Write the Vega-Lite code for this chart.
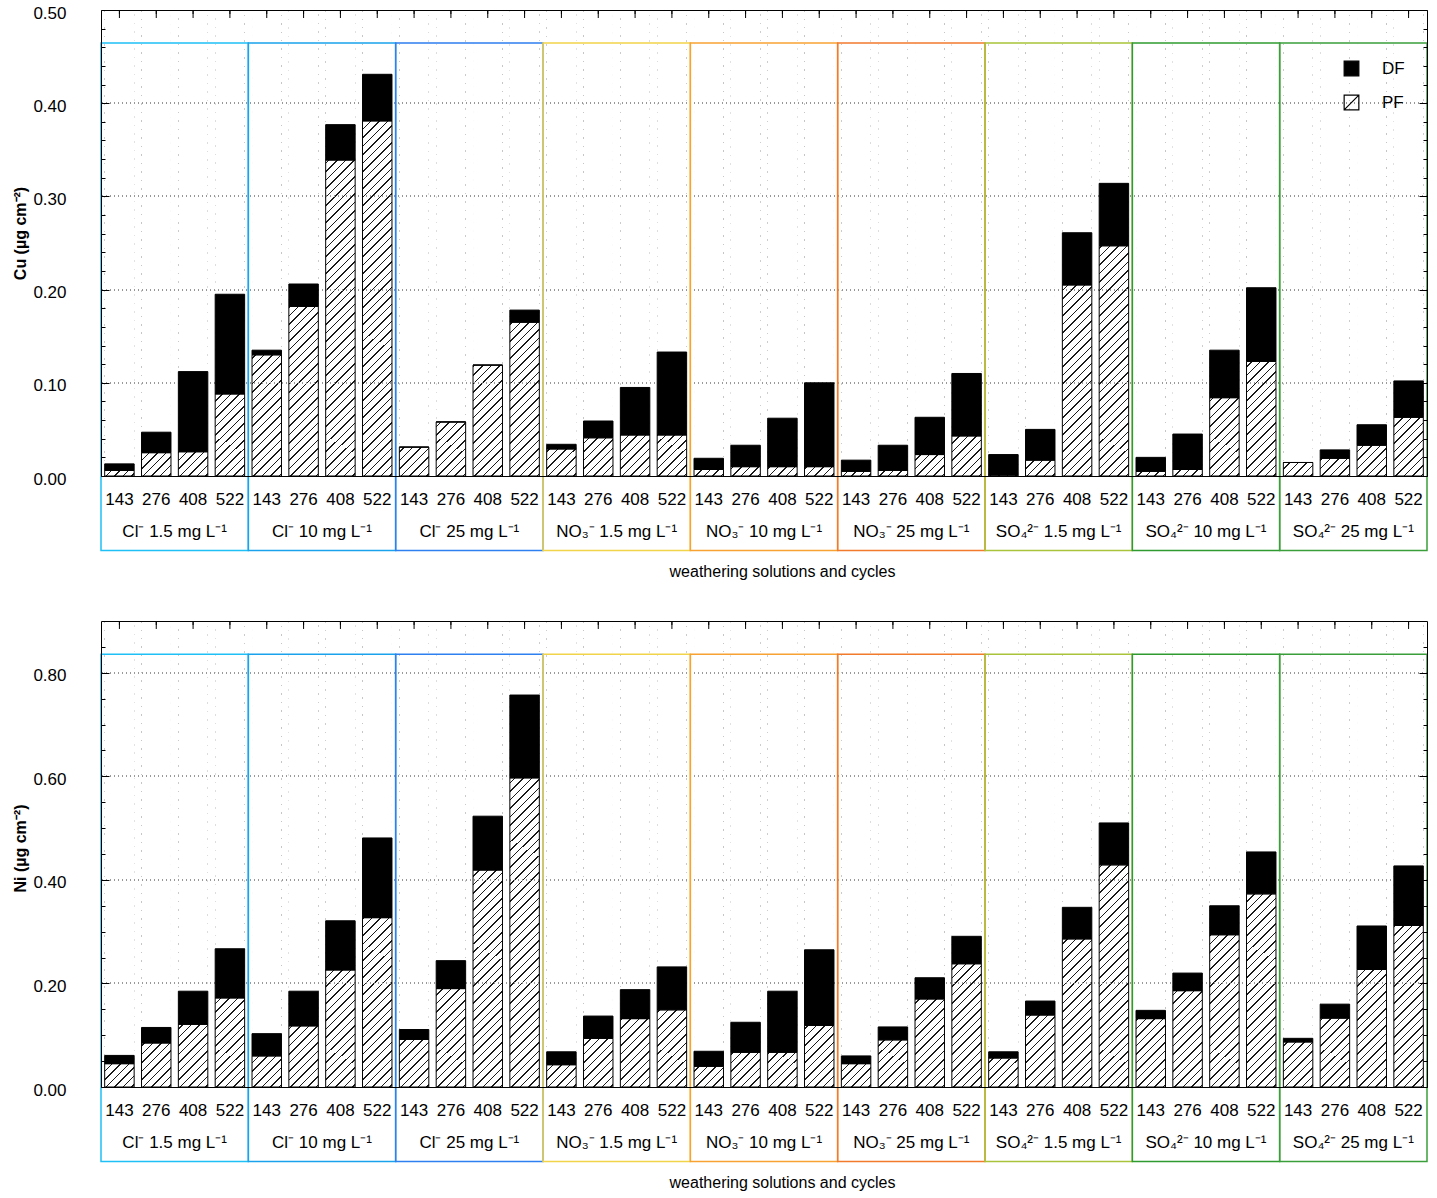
{
"$schema": "https://vega.github.io/schema/vega-lite/v6.json",
"background": "white",
"padding": {"left": 12, "top": 4, "right": 10, "bottom": 6},
"spacing": 41,
"config": {
 "font": "Liberation Sans",
 "view": {"stroke": null},
 "scale": {"bandPaddingInner": 0, "bandPaddingOuter": 0, "barBandPaddingInner": 0, "rectBandPaddingInner": 0},
 "axis": {"grid": false, "domainColor": "#000", "tickColor": "#000", "labelColor": "#000", "titleColor": "#000", "labelFontSize": 17, "titleFontSize": 16, "domainWidth": 1, "tickWidth": 1},
 "text": {"color": "#000"}
},
"datasets": {
 "cu": [
  {"solution":"Cl⁻ 1.5 mg L⁻¹","cycle":"143","fraction":"PF","value":0.006},{"solution":"Cl⁻ 1.5 mg L⁻¹","cycle":"143","fraction":"DF","value":0.007},
  {"solution":"Cl⁻ 1.5 mg L⁻¹","cycle":"276","fraction":"PF","value":0.025},{"solution":"Cl⁻ 1.5 mg L⁻¹","cycle":"276","fraction":"DF","value":0.022},
  {"solution":"Cl⁻ 1.5 mg L⁻¹","cycle":"408","fraction":"PF","value":0.026},{"solution":"Cl⁻ 1.5 mg L⁻¹","cycle":"408","fraction":"DF","value":0.086},
  {"solution":"Cl⁻ 1.5 mg L⁻¹","cycle":"522","fraction":"PF","value":0.088},{"solution":"Cl⁻ 1.5 mg L⁻¹","cycle":"522","fraction":"DF","value":0.107},
  {"solution":"Cl⁻ 10 mg L⁻¹","cycle":"143","fraction":"PF","value":0.130},{"solution":"Cl⁻ 10 mg L⁻¹","cycle":"143","fraction":"DF","value":0.005},
  {"solution":"Cl⁻ 10 mg L⁻¹","cycle":"276","fraction":"PF","value":0.182},{"solution":"Cl⁻ 10 mg L⁻¹","cycle":"276","fraction":"DF","value":0.024},
  {"solution":"Cl⁻ 10 mg L⁻¹","cycle":"408","fraction":"PF","value":0.339},{"solution":"Cl⁻ 10 mg L⁻¹","cycle":"408","fraction":"DF","value":0.038},
  {"solution":"Cl⁻ 10 mg L⁻¹","cycle":"522","fraction":"PF","value":0.381},{"solution":"Cl⁻ 10 mg L⁻¹","cycle":"522","fraction":"DF","value":0.050},
  {"solution":"Cl⁻ 25 mg L⁻¹","cycle":"143","fraction":"PF","value":0.031},{"solution":"Cl⁻ 25 mg L⁻¹","cycle":"143","fraction":"DF","value":0},
  {"solution":"Cl⁻ 25 mg L⁻¹","cycle":"276","fraction":"PF","value":0.058},{"solution":"Cl⁻ 25 mg L⁻¹","cycle":"276","fraction":"DF","value":0},
  {"solution":"Cl⁻ 25 mg L⁻¹","cycle":"408","fraction":"PF","value":0.119},{"solution":"Cl⁻ 25 mg L⁻¹","cycle":"408","fraction":"DF","value":0},
  {"solution":"Cl⁻ 25 mg L⁻¹","cycle":"522","fraction":"PF","value":0.165},{"solution":"Cl⁻ 25 mg L⁻¹","cycle":"522","fraction":"DF","value":0.013},
  {"solution":"NO₃⁻ 1.5 mg L⁻¹","cycle":"143","fraction":"PF","value":0.029},{"solution":"NO₃⁻ 1.5 mg L⁻¹","cycle":"143","fraction":"DF","value":0.005},
  {"solution":"NO₃⁻ 1.5 mg L⁻¹","cycle":"276","fraction":"PF","value":0.041},{"solution":"NO₃⁻ 1.5 mg L⁻¹","cycle":"276","fraction":"DF","value":0.018},
  {"solution":"NO₃⁻ 1.5 mg L⁻¹","cycle":"408","fraction":"PF","value":0.044},{"solution":"NO₃⁻ 1.5 mg L⁻¹","cycle":"408","fraction":"DF","value":0.051},
  {"solution":"NO₃⁻ 1.5 mg L⁻¹","cycle":"522","fraction":"PF","value":0.044},{"solution":"NO₃⁻ 1.5 mg L⁻¹","cycle":"522","fraction":"DF","value":0.089},
  {"solution":"NO₃⁻ 10 mg L⁻¹","cycle":"143","fraction":"PF","value":0.007},{"solution":"NO₃⁻ 10 mg L⁻¹","cycle":"143","fraction":"DF","value":0.012},
  {"solution":"NO₃⁻ 10 mg L⁻¹","cycle":"276","fraction":"PF","value":0.010},{"solution":"NO₃⁻ 10 mg L⁻¹","cycle":"276","fraction":"DF","value":0.023},
  {"solution":"NO₃⁻ 10 mg L⁻¹","cycle":"408","fraction":"PF","value":0.010},{"solution":"NO₃⁻ 10 mg L⁻¹","cycle":"408","fraction":"DF","value":0.052},
  {"solution":"NO₃⁻ 10 mg L⁻¹","cycle":"522","fraction":"PF","value":0.010},{"solution":"NO₃⁻ 10 mg L⁻¹","cycle":"522","fraction":"DF","value":0.090},
  {"solution":"NO₃⁻ 25 mg L⁻¹","cycle":"143","fraction":"PF","value":0.005},{"solution":"NO₃⁻ 25 mg L⁻¹","cycle":"143","fraction":"DF","value":0.012},
  {"solution":"NO₃⁻ 25 mg L⁻¹","cycle":"276","fraction":"PF","value":0.006},{"solution":"NO₃⁻ 25 mg L⁻¹","cycle":"276","fraction":"DF","value":0.027},
  {"solution":"NO₃⁻ 25 mg L⁻¹","cycle":"408","fraction":"PF","value":0.023},{"solution":"NO₃⁻ 25 mg L⁻¹","cycle":"408","fraction":"DF","value":0.040},
  {"solution":"NO₃⁻ 25 mg L⁻¹","cycle":"522","fraction":"PF","value":0.043},{"solution":"NO₃⁻ 25 mg L⁻¹","cycle":"522","fraction":"DF","value":0.067},
  {"solution":"SO₄²⁻ 1.5 mg L⁻¹","cycle":"143","fraction":"PF","value":0.001},{"solution":"SO₄²⁻ 1.5 mg L⁻¹","cycle":"143","fraction":"DF","value":0.022},
  {"solution":"SO₄²⁻ 1.5 mg L⁻¹","cycle":"276","fraction":"PF","value":0.017},{"solution":"SO₄²⁻ 1.5 mg L⁻¹","cycle":"276","fraction":"DF","value":0.033},
  {"solution":"SO₄²⁻ 1.5 mg L⁻¹","cycle":"408","fraction":"PF","value":0.205},{"solution":"SO₄²⁻ 1.5 mg L⁻¹","cycle":"408","fraction":"DF","value":0.056},
  {"solution":"SO₄²⁻ 1.5 mg L⁻¹","cycle":"522","fraction":"PF","value":0.247},{"solution":"SO₄²⁻ 1.5 mg L⁻¹","cycle":"522","fraction":"DF","value":0.067},
  {"solution":"SO₄²⁻ 10 mg L⁻¹","cycle":"143","fraction":"PF","value":0.005},{"solution":"SO₄²⁻ 10 mg L⁻¹","cycle":"143","fraction":"DF","value":0.015},
  {"solution":"SO₄²⁻ 10 mg L⁻¹","cycle":"276","fraction":"PF","value":0.007},{"solution":"SO₄²⁻ 10 mg L⁻¹","cycle":"276","fraction":"DF","value":0.038},
  {"solution":"SO₄²⁻ 10 mg L⁻¹","cycle":"408","fraction":"PF","value":0.084},{"solution":"SO₄²⁻ 10 mg L⁻¹","cycle":"408","fraction":"DF","value":0.051},
  {"solution":"SO₄²⁻ 10 mg L⁻¹","cycle":"522","fraction":"PF","value":0.123},{"solution":"SO₄²⁻ 10 mg L⁻¹","cycle":"522","fraction":"DF","value":0.079},
  {"solution":"SO₄²⁻ 25 mg L⁻¹","cycle":"143","fraction":"PF","value":0.0145},{"solution":"SO₄²⁻ 25 mg L⁻¹","cycle":"143","fraction":"DF","value":0},
  {"solution":"SO₄²⁻ 25 mg L⁻¹","cycle":"276","fraction":"PF","value":0.019},{"solution":"SO₄²⁻ 25 mg L⁻¹","cycle":"276","fraction":"DF","value":0.009},
  {"solution":"SO₄²⁻ 25 mg L⁻¹","cycle":"408","fraction":"PF","value":0.033},{"solution":"SO₄²⁻ 25 mg L⁻¹","cycle":"408","fraction":"DF","value":0.022},
  {"solution":"SO₄²⁻ 25 mg L⁻¹","cycle":"522","fraction":"PF","value":0.063},{"solution":"SO₄²⁻ 25 mg L⁻¹","cycle":"522","fraction":"DF","value":0.039}
 ],
 "ni": [
  {"solution":"Cl⁻ 1.5 mg L⁻¹","cycle":"143","fraction":"PF","value":0.045},{"solution":"Cl⁻ 1.5 mg L⁻¹","cycle":"143","fraction":"DF","value":0.016},
  {"solution":"Cl⁻ 1.5 mg L⁻¹","cycle":"276","fraction":"PF","value":0.085},{"solution":"Cl⁻ 1.5 mg L⁻¹","cycle":"276","fraction":"DF","value":0.030},
  {"solution":"Cl⁻ 1.5 mg L⁻¹","cycle":"408","fraction":"PF","value":0.121},{"solution":"Cl⁻ 1.5 mg L⁻¹","cycle":"408","fraction":"DF","value":0.064},
  {"solution":"Cl⁻ 1.5 mg L⁻¹","cycle":"522","fraction":"PF","value":0.172},{"solution":"Cl⁻ 1.5 mg L⁻¹","cycle":"522","fraction":"DF","value":0.095},
  {"solution":"Cl⁻ 10 mg L⁻¹","cycle":"143","fraction":"PF","value":0.060},{"solution":"Cl⁻ 10 mg L⁻¹","cycle":"143","fraction":"DF","value":0.043},
  {"solution":"Cl⁻ 10 mg L⁻¹","cycle":"276","fraction":"PF","value":0.118},{"solution":"Cl⁻ 10 mg L⁻¹","cycle":"276","fraction":"DF","value":0.067},
  {"solution":"Cl⁻ 10 mg L⁻¹","cycle":"408","fraction":"PF","value":0.226},{"solution":"Cl⁻ 10 mg L⁻¹","cycle":"408","fraction":"DF","value":0.095},
  {"solution":"Cl⁻ 10 mg L⁻¹","cycle":"522","fraction":"PF","value":0.327},{"solution":"Cl⁻ 10 mg L⁻¹","cycle":"522","fraction":"DF","value":0.154},
  {"solution":"Cl⁻ 25 mg L⁻¹","cycle":"143","fraction":"PF","value":0.092},{"solution":"Cl⁻ 25 mg L⁻¹","cycle":"143","fraction":"DF","value":0.019},
  {"solution":"Cl⁻ 25 mg L⁻¹","cycle":"276","fraction":"PF","value":0.190},{"solution":"Cl⁻ 25 mg L⁻¹","cycle":"276","fraction":"DF","value":0.054},
  {"solution":"Cl⁻ 25 mg L⁻¹","cycle":"408","fraction":"PF","value":0.419},{"solution":"Cl⁻ 25 mg L⁻¹","cycle":"408","fraction":"DF","value":0.104},
  {"solution":"Cl⁻ 25 mg L⁻¹","cycle":"522","fraction":"PF","value":0.597},{"solution":"Cl⁻ 25 mg L⁻¹","cycle":"522","fraction":"DF","value":0.160},
  {"solution":"NO₃⁻ 1.5 mg L⁻¹","cycle":"143","fraction":"PF","value":0.043},{"solution":"NO₃⁻ 1.5 mg L⁻¹","cycle":"143","fraction":"DF","value":0.025},
  {"solution":"NO₃⁻ 1.5 mg L⁻¹","cycle":"276","fraction":"PF","value":0.094},{"solution":"NO₃⁻ 1.5 mg L⁻¹","cycle":"276","fraction":"DF","value":0.043},
  {"solution":"NO₃⁻ 1.5 mg L⁻¹","cycle":"408","fraction":"PF","value":0.132},{"solution":"NO₃⁻ 1.5 mg L⁻¹","cycle":"408","fraction":"DF","value":0.056},
  {"solution":"NO₃⁻ 1.5 mg L⁻¹","cycle":"522","fraction":"PF","value":0.149},{"solution":"NO₃⁻ 1.5 mg L⁻¹","cycle":"522","fraction":"DF","value":0.083},
  {"solution":"NO₃⁻ 10 mg L⁻¹","cycle":"143","fraction":"PF","value":0.040},{"solution":"NO₃⁻ 10 mg L⁻¹","cycle":"143","fraction":"DF","value":0.029},
  {"solution":"NO₃⁻ 10 mg L⁻¹","cycle":"276","fraction":"PF","value":0.067},{"solution":"NO₃⁻ 10 mg L⁻¹","cycle":"276","fraction":"DF","value":0.058},
  {"solution":"NO₃⁻ 10 mg L⁻¹","cycle":"408","fraction":"PF","value":0.067},{"solution":"NO₃⁻ 10 mg L⁻¹","cycle":"408","fraction":"DF","value":0.118},
  {"solution":"NO₃⁻ 10 mg L⁻¹","cycle":"522","fraction":"PF","value":0.119},{"solution":"NO₃⁻ 10 mg L⁻¹","cycle":"522","fraction":"DF","value":0.146},
  {"solution":"NO₃⁻ 25 mg L⁻¹","cycle":"143","fraction":"PF","value":0.045},{"solution":"NO₃⁻ 25 mg L⁻¹","cycle":"143","fraction":"DF","value":0.015},
  {"solution":"NO₃⁻ 25 mg L⁻¹","cycle":"276","fraction":"PF","value":0.091},{"solution":"NO₃⁻ 25 mg L⁻¹","cycle":"276","fraction":"DF","value":0.025},
  {"solution":"NO₃⁻ 25 mg L⁻¹","cycle":"408","fraction":"PF","value":0.170},{"solution":"NO₃⁻ 25 mg L⁻¹","cycle":"408","fraction":"DF","value":0.041},
  {"solution":"NO₃⁻ 25 mg L⁻¹","cycle":"522","fraction":"PF","value":0.238},{"solution":"NO₃⁻ 25 mg L⁻¹","cycle":"522","fraction":"DF","value":0.053},
  {"solution":"SO₄²⁻ 1.5 mg L⁻¹","cycle":"143","fraction":"PF","value":0.056},{"solution":"SO₄²⁻ 1.5 mg L⁻¹","cycle":"143","fraction":"DF","value":0.012},
  {"solution":"SO₄²⁻ 1.5 mg L⁻¹","cycle":"276","fraction":"PF","value":0.139},{"solution":"SO₄²⁻ 1.5 mg L⁻¹","cycle":"276","fraction":"DF","value":0.027},
  {"solution":"SO₄²⁻ 1.5 mg L⁻¹","cycle":"408","fraction":"PF","value":0.286},{"solution":"SO₄²⁻ 1.5 mg L⁻¹","cycle":"408","fraction":"DF","value":0.061},
  {"solution":"SO₄²⁻ 1.5 mg L⁻¹","cycle":"522","fraction":"PF","value":0.429},{"solution":"SO₄²⁻ 1.5 mg L⁻¹","cycle":"522","fraction":"DF","value":0.081},
  {"solution":"SO₄²⁻ 10 mg L⁻¹","cycle":"143","fraction":"PF","value":0.132},{"solution":"SO₄²⁻ 10 mg L⁻¹","cycle":"143","fraction":"DF","value":0.016},
  {"solution":"SO₄²⁻ 10 mg L⁻¹","cycle":"276","fraction":"PF","value":0.186},{"solution":"SO₄²⁻ 10 mg L⁻¹","cycle":"276","fraction":"DF","value":0.034},
  {"solution":"SO₄²⁻ 10 mg L⁻¹","cycle":"408","fraction":"PF","value":0.294},{"solution":"SO₄²⁻ 10 mg L⁻¹","cycle":"408","fraction":"DF","value":0.056},
  {"solution":"SO₄²⁻ 10 mg L⁻¹","cycle":"522","fraction":"PF","value":0.373},{"solution":"SO₄²⁻ 10 mg L⁻¹","cycle":"522","fraction":"DF","value":0.081},
  {"solution":"SO₄²⁻ 25 mg L⁻¹","cycle":"143","fraction":"PF","value":0.087},{"solution":"SO₄²⁻ 25 mg L⁻¹","cycle":"143","fraction":"DF","value":0.007},
  {"solution":"SO₄²⁻ 25 mg L⁻¹","cycle":"276","fraction":"PF","value":0.133},{"solution":"SO₄²⁻ 25 mg L⁻¹","cycle":"276","fraction":"DF","value":0.027},
  {"solution":"SO₄²⁻ 25 mg L⁻¹","cycle":"408","fraction":"PF","value":0.227},{"solution":"SO₄²⁻ 25 mg L⁻¹","cycle":"408","fraction":"DF","value":0.084},
  {"solution":"SO₄²⁻ 25 mg L⁻¹","cycle":"522","fraction":"PF","value":0.312},{"solution":"SO₄²⁻ 25 mg L⁻¹","cycle":"522","fraction":"DF","value":0.115}
 ]
},
"vconcat": [
 {
  "width": 1326, "height": 466,
  "data": {"name": "cu"},
  "resolve": {"axis": {"x": "independent", "y": "independent"}},
  "layer": [
   {"transform": [{"filter": "datum.fraction === 'PF'"}],
    "mark": {"type": "rule", "color": "#999", "strokeDash": [1, 3], "strokeWidth": 1},
    "encoding": {
     "x": {"field": "solution", "type": "nominal", "scale": {"type": "band", "paddingInner": 0, "paddingOuter": 0}, "axis": null},
     "xOffset": {"field": "cycle", "type": "nominal", "bandPosition": -0.125, "scale": {"type": "band", "paddingInner": 0.2, "paddingOuter": 0.1}},
     "y": {"datum": 0, "type": "quantitative", "scale": {"domain": [0, 0.5], "nice": false}, "axis": {"orient": "left", "values": [0.02,0.04,0.06,0.08,0.12,0.14,0.16,0.18,0.22,0.24,0.26,0.28,0.32,0.34,0.36,0.38,0.42,0.44,0.46,0.48], "labels": false, "tickSize": -4, "domain": false, "title": null, "zindex": 1}},
     "y2": {"datum": 0.5}
    }},
   {"transform": [{"filter": "datum.fraction === 'PF'"}],
    "mark": {"type": "bar", "strokeWidth": 0, "fill": {"gradient": "linear", "x1": 0, "y1": 0, "x2": 0.0673, "y2": 1.067, "stops": [
{"offset":0,"color":"#1a1a1a"},{"offset":0.003,"color":"#1a1a1a"},{"offset":0.003,"color":"#fff"},
{"offset":0.017,"color":"#fff"},{"offset":0.017,"color":"#1a1a1a"},{"offset":0.02,"color":"#1a1a1a"},{"offset":0.02,"color":"#fff"},
{"offset":0.034,"color":"#fff"},{"offset":0.034,"color":"#1a1a1a"},{"offset":0.037,"color":"#1a1a1a"},{"offset":0.037,"color":"#fff"},
{"offset":0.051,"color":"#fff"},{"offset":0.051,"color":"#1a1a1a"},{"offset":0.054,"color":"#1a1a1a"},{"offset":0.054,"color":"#fff"},
{"offset":0.068,"color":"#fff"},{"offset":0.068,"color":"#1a1a1a"},{"offset":0.071,"color":"#1a1a1a"},{"offset":0.071,"color":"#fff"},
{"offset":0.085,"color":"#fff"},{"offset":0.085,"color":"#1a1a1a"},{"offset":0.088,"color":"#1a1a1a"},{"offset":0.088,"color":"#fff"},
{"offset":0.102,"color":"#fff"},{"offset":0.102,"color":"#1a1a1a"},{"offset":0.105,"color":"#1a1a1a"},{"offset":0.105,"color":"#fff"},
{"offset":0.119,"color":"#fff"},{"offset":0.119,"color":"#1a1a1a"},{"offset":0.122,"color":"#1a1a1a"},{"offset":0.122,"color":"#fff"},
{"offset":0.136,"color":"#fff"},{"offset":0.136,"color":"#1a1a1a"},{"offset":0.139,"color":"#1a1a1a"},{"offset":0.139,"color":"#fff"},
{"offset":0.153,"color":"#fff"},{"offset":0.153,"color":"#1a1a1a"},{"offset":0.156,"color":"#1a1a1a"},{"offset":0.156,"color":"#fff"},
{"offset":0.17,"color":"#fff"},{"offset":0.17,"color":"#1a1a1a"},{"offset":0.173,"color":"#1a1a1a"},{"offset":0.173,"color":"#fff"},
{"offset":0.187,"color":"#fff"},{"offset":0.187,"color":"#1a1a1a"},{"offset":0.19,"color":"#1a1a1a"},{"offset":0.19,"color":"#fff"},
{"offset":0.204,"color":"#fff"},{"offset":0.204,"color":"#1a1a1a"},{"offset":0.207,"color":"#1a1a1a"},{"offset":0.207,"color":"#fff"},
{"offset":0.221,"color":"#fff"},{"offset":0.221,"color":"#1a1a1a"},{"offset":0.224,"color":"#1a1a1a"},{"offset":0.224,"color":"#fff"},
{"offset":0.238,"color":"#fff"},{"offset":0.238,"color":"#1a1a1a"},{"offset":0.241,"color":"#1a1a1a"},{"offset":0.241,"color":"#fff"},
{"offset":0.255,"color":"#fff"},{"offset":0.255,"color":"#1a1a1a"},{"offset":0.258,"color":"#1a1a1a"},{"offset":0.258,"color":"#fff"},
{"offset":0.272,"color":"#fff"},{"offset":0.272,"color":"#1a1a1a"},{"offset":0.275,"color":"#1a1a1a"},{"offset":0.275,"color":"#fff"},
{"offset":0.289,"color":"#fff"},{"offset":0.289,"color":"#1a1a1a"},{"offset":0.292,"color":"#1a1a1a"},{"offset":0.292,"color":"#fff"},
{"offset":0.306,"color":"#fff"},{"offset":0.306,"color":"#1a1a1a"},{"offset":0.309,"color":"#1a1a1a"},{"offset":0.309,"color":"#fff"},
{"offset":0.323,"color":"#fff"},{"offset":0.323,"color":"#1a1a1a"},{"offset":0.326,"color":"#1a1a1a"},{"offset":0.326,"color":"#fff"},
{"offset":0.34,"color":"#fff"},{"offset":0.34,"color":"#1a1a1a"},{"offset":0.343,"color":"#1a1a1a"},{"offset":0.343,"color":"#fff"},
{"offset":0.357,"color":"#fff"},{"offset":0.357,"color":"#1a1a1a"},{"offset":0.36,"color":"#1a1a1a"},{"offset":0.36,"color":"#fff"},
{"offset":0.374,"color":"#fff"},{"offset":0.374,"color":"#1a1a1a"},{"offset":0.377,"color":"#1a1a1a"},{"offset":0.377,"color":"#fff"},
{"offset":0.391,"color":"#fff"},{"offset":0.391,"color":"#1a1a1a"},{"offset":0.394,"color":"#1a1a1a"},{"offset":0.394,"color":"#fff"},
{"offset":0.408,"color":"#fff"},{"offset":0.408,"color":"#1a1a1a"},{"offset":0.411,"color":"#1a1a1a"},{"offset":0.411,"color":"#fff"},
{"offset":0.425,"color":"#fff"},{"offset":0.425,"color":"#1a1a1a"},{"offset":0.428,"color":"#1a1a1a"},{"offset":0.428,"color":"#fff"},
{"offset":0.442,"color":"#fff"},{"offset":0.442,"color":"#1a1a1a"},{"offset":0.445,"color":"#1a1a1a"},{"offset":0.445,"color":"#fff"},
{"offset":0.459,"color":"#fff"},{"offset":0.459,"color":"#1a1a1a"},{"offset":0.462,"color":"#1a1a1a"},{"offset":0.462,"color":"#fff"},
{"offset":0.476,"color":"#fff"},{"offset":0.476,"color":"#1a1a1a"},{"offset":0.479,"color":"#1a1a1a"},{"offset":0.479,"color":"#fff"},
{"offset":0.493,"color":"#fff"},{"offset":0.493,"color":"#1a1a1a"},{"offset":0.496,"color":"#1a1a1a"},{"offset":0.496,"color":"#fff"},
{"offset":0.51,"color":"#fff"},{"offset":0.51,"color":"#1a1a1a"},{"offset":0.513,"color":"#1a1a1a"},{"offset":0.513,"color":"#fff"},
{"offset":0.527,"color":"#fff"},{"offset":0.527,"color":"#1a1a1a"},{"offset":0.53,"color":"#1a1a1a"},{"offset":0.53,"color":"#fff"},
{"offset":0.544,"color":"#fff"},{"offset":0.544,"color":"#1a1a1a"},{"offset":0.547,"color":"#1a1a1a"},{"offset":0.547,"color":"#fff"},
{"offset":0.561,"color":"#fff"},{"offset":0.561,"color":"#1a1a1a"},{"offset":0.564,"color":"#1a1a1a"},{"offset":0.564,"color":"#fff"},
{"offset":0.578,"color":"#fff"},{"offset":0.578,"color":"#1a1a1a"},{"offset":0.581,"color":"#1a1a1a"},{"offset":0.581,"color":"#fff"},
{"offset":0.595,"color":"#fff"},{"offset":0.595,"color":"#1a1a1a"},{"offset":0.598,"color":"#1a1a1a"},{"offset":0.598,"color":"#fff"},
{"offset":0.612,"color":"#fff"},{"offset":0.612,"color":"#1a1a1a"},{"offset":0.615,"color":"#1a1a1a"},{"offset":0.615,"color":"#fff"},
{"offset":0.629,"color":"#fff"},{"offset":0.629,"color":"#1a1a1a"},{"offset":0.632,"color":"#1a1a1a"},{"offset":0.632,"color":"#fff"},
{"offset":0.646,"color":"#fff"},{"offset":0.646,"color":"#1a1a1a"},{"offset":0.649,"color":"#1a1a1a"},{"offset":0.649,"color":"#fff"},
{"offset":0.663,"color":"#fff"},{"offset":0.663,"color":"#1a1a1a"},{"offset":0.666,"color":"#1a1a1a"},{"offset":0.666,"color":"#fff"},
{"offset":0.68,"color":"#fff"},{"offset":0.68,"color":"#1a1a1a"},{"offset":0.683,"color":"#1a1a1a"},{"offset":0.683,"color":"#fff"},
{"offset":0.697,"color":"#fff"},{"offset":0.697,"color":"#1a1a1a"},{"offset":0.7,"color":"#1a1a1a"},{"offset":0.7,"color":"#fff"},
{"offset":0.714,"color":"#fff"},{"offset":0.714,"color":"#1a1a1a"},{"offset":0.717,"color":"#1a1a1a"},{"offset":0.717,"color":"#fff"},
{"offset":0.731,"color":"#fff"},{"offset":0.731,"color":"#1a1a1a"},{"offset":0.734,"color":"#1a1a1a"},{"offset":0.734,"color":"#fff"},
{"offset":0.748,"color":"#fff"},{"offset":0.748,"color":"#1a1a1a"},{"offset":0.751,"color":"#1a1a1a"},{"offset":0.751,"color":"#fff"},
{"offset":0.765,"color":"#fff"},{"offset":0.765,"color":"#1a1a1a"},{"offset":0.768,"color":"#1a1a1a"},{"offset":0.768,"color":"#fff"},
{"offset":0.782,"color":"#fff"},{"offset":0.782,"color":"#1a1a1a"},{"offset":0.785,"color":"#1a1a1a"},{"offset":0.785,"color":"#fff"},
{"offset":0.799,"color":"#fff"},{"offset":0.799,"color":"#1a1a1a"},{"offset":0.802,"color":"#1a1a1a"},{"offset":0.802,"color":"#fff"},
{"offset":0.816,"color":"#fff"},{"offset":0.816,"color":"#1a1a1a"},{"offset":0.819,"color":"#1a1a1a"},{"offset":0.819,"color":"#fff"},
{"offset":0.833,"color":"#fff"},{"offset":0.833,"color":"#1a1a1a"},{"offset":0.836,"color":"#1a1a1a"},{"offset":0.836,"color":"#fff"},
{"offset":0.85,"color":"#fff"},{"offset":0.85,"color":"#1a1a1a"},{"offset":0.853,"color":"#1a1a1a"},{"offset":0.853,"color":"#fff"},
{"offset":0.867,"color":"#fff"},{"offset":0.867,"color":"#1a1a1a"},{"offset":0.87,"color":"#1a1a1a"},{"offset":0.87,"color":"#fff"},
{"offset":0.884,"color":"#fff"},{"offset":0.884,"color":"#1a1a1a"},{"offset":0.887,"color":"#1a1a1a"},{"offset":0.887,"color":"#fff"},
{"offset":0.901,"color":"#fff"},{"offset":0.901,"color":"#1a1a1a"},{"offset":0.904,"color":"#1a1a1a"},{"offset":0.904,"color":"#fff"},
{"offset":0.918,"color":"#fff"},{"offset":0.918,"color":"#1a1a1a"},{"offset":0.921,"color":"#1a1a1a"},{"offset":0.921,"color":"#fff"},
{"offset":0.935,"color":"#fff"},{"offset":0.935,"color":"#1a1a1a"},{"offset":0.938,"color":"#1a1a1a"},{"offset":0.938,"color":"#fff"},
{"offset":0.952,"color":"#fff"},{"offset":0.952,"color":"#1a1a1a"},{"offset":0.955,"color":"#1a1a1a"},{"offset":0.955,"color":"#fff"},
{"offset":0.969,"color":"#fff"},{"offset":0.969,"color":"#1a1a1a"},{"offset":0.972,"color":"#1a1a1a"},{"offset":0.972,"color":"#fff"},
{"offset":0.986,"color":"#fff"},{"offset":0.986,"color":"#1a1a1a"},{"offset":0.989,"color":"#1a1a1a"},{"offset":0.989,"color":"#fff"},
{"offset":1,"color":"#fff"}]}},
    "encoding": {
     "x": {"field": "solution", "type": "nominal", "scale": {"type": "band", "paddingInner": 0, "paddingOuter": 0}, "axis": {"orient": "bottom", "title": "weathering solutions and cycles", "titleFontWeight": "normal", "titleFontSize": 16, "titlePadding": 24, "titleX": 681, "labelAngle": 0, "labelPadding": 47, "labelFontSize": 17, "ticks": false, "tickSize": 0, "domain": true, "zindex": 1}},
     "xOffset": {"field": "cycle", "type": "nominal", "scale": {"type": "band", "paddingInner": 0.2, "paddingOuter": 0.1}},
     "y": {"datum": 0, "type": "quantitative", "scale": {"domain": [0, 0.5], "nice": false}, "axis": {"orient": "left", "values": [0, 0.1, 0.2, 0.3, 0.4, 0.5], "format": ".2f", "ticks": false, "tickSize": 0, "labelPadding": 35, "labelOffset": 3, "labelFontSize": 17, "title": "Cu (µg cm⁻²)", "titleFontSize": 16, "titleFontWeight": "bold", "titlePadding": 4, "titleY": 223, "domain": true, "zindex": 1}},
     "y2": {"datum": 0.5}
    }},
   {"transform": [{"filter": "datum.fraction === 'PF'"}],
    "mark": {"type": "bar", "fill": "#fff", "strokeWidth": 0},
    "encoding": {
     "x": {"field": "solution", "type": "nominal", "scale": {"type": "band", "paddingInner": 0, "paddingOuter": 0}, "axis": {"orient": "top", "labels": false, "ticks": false, "domain": true, "title": null, "zindex": 1}},
     "xOffset": {"field": "cycle", "type": "nominal", "scale": {"type": "band", "paddingInner": 0.2, "paddingOuter": 0.1}},
     "y": {"field": "value", "type": "quantitative", "scale": {"domain": [0, 0.5], "nice": false}, "axis": {"orient": "left", "values": [0, 0.1, 0.2, 0.3, 0.4, 0.5], "labels": false, "tickSize": -8, "domain": false, "title": null, "zindex": 1}},
     "y2": {"datum": 0.5}
    }},
   {"mark": {"type": "rule", "color": "#999", "strokeDash": [1, 3]}, "encoding": {"y": {"datum": 0.1, "type": "quantitative", "scale": {"domain": [0, 0.5], "nice": false}, "axis": null}}},
   {"mark": {"type": "rule", "color": "#999", "strokeDash": [1, 3]}, "encoding": {"y": {"datum": 0.2, "type": "quantitative", "scale": {"domain": [0, 0.5], "nice": false}, "axis": null}}},
   {"mark": {"type": "rule", "color": "#999", "strokeDash": [1, 3]}, "encoding": {"y": {"datum": 0.3, "type": "quantitative", "scale": {"domain": [0, 0.5], "nice": false}, "axis": null}}},
   {"mark": {"type": "rule", "color": "#999", "strokeDash": [1, 3]}, "encoding": {"y": {"datum": 0.4, "type": "quantitative", "scale": {"domain": [0, 0.5], "nice": false}, "axis": null}}},
   {"mark": {"type": "bar", "stroke": "#000", "strokeWidth": 1},
    "encoding": {
     "x": {"field": "solution", "type": "nominal", "scale": {"type": "band", "paddingInner": 0, "paddingOuter": 0}, "axis": null},
     "xOffset": {"field": "cycle", "type": "nominal", "scale": {"type": "band", "paddingInner": 0.2, "paddingOuter": 0.1}},
     "y": {"field": "value", "type": "quantitative", "stack": "zero", "scale": {"domain": [0, 0.5], "nice": false}, "axis": {"orient": "right", "values": [0, 0.1, 0.2, 0.3, 0.4, 0.5], "labels": false, "tickSize": -8, "domain": true, "title": null, "zindex": 1}},
     "fill": {"field": "fraction", "type": "nominal", "scale": {"domain": ["DF", "PF"], "range": ["#000000", "transparent"]},
      "legend": {"title": null, "orient": "none", "legendX": 1242, "legendY": 50, "padding": 0, "symbolType": "square", "symbolSize": 216, "symbolStrokeColor": "#000", "symbolStrokeWidth": 1.2, "labelFontSize": 17, "labelOffset": 22, "rowPadding": 13,
       "encode": {"symbols": {"update": {"shape": [{"test": "datum.value === 'PF'", "value": "M-1,-1H1V1H-1ZM-1,1L1,-1"}, {"value": "square"}]}}}}},
     "order": {"field": "fraction", "sort": "descending"}
    }},
   {"transform": [{"filter": "datum.fraction === 'PF'"}],
    "mark": {"type": "text", "dy": 24, "fontSize": 17, "baseline": "middle", "align": "center"},
    "encoding": {
     "x": {"field": "solution", "type": "nominal", "scale": {"type": "band", "paddingInner": 0, "paddingOuter": 0}, "axis": null},
     "xOffset": {"field": "cycle", "type": "nominal", "scale": {"type": "band", "paddingInner": 0.2, "paddingOuter": 0.1}},
     "y": {"datum": 0, "type": "quantitative", "scale": {"domain": [0, 0.5], "nice": false}, "axis": {"orient": "right", "values": [0.02,0.04,0.06,0.08,0.12,0.14,0.16,0.18,0.22,0.24,0.26,0.28,0.32,0.34,0.36,0.38,0.42,0.44,0.46,0.48], "labels": false, "tickSize": -4, "domain": false, "title": null, "zindex": 1}},
     "text": {"field": "cycle", "type": "nominal"}
    }},
   {"transform": [{"filter": "datum.fraction === 'PF'"}, {"aggregate": [{"op": "count", "as": "n"}], "groupby": ["solution"]}],
    "mark": {"type": "rect", "filled": false, "strokeWidth": 1.5},
    "encoding": {
     "x": {"field": "solution", "type": "nominal", "scale": {"type": "band", "paddingInner": 0, "paddingOuter": 0}, "axis": null},
     "y": {"datum": -0.08, "type": "quantitative", "scale": {"domain": [0, 0.5], "nice": false}, "axis": null},
     "y2": {"datum": 0.4645},
     "stroke": {"field": "solution", "type": "nominal", "scale": {"range": ["#1ec0f5", "#1aa3ec", "#2e7ff0", "#f2d44a", "#f8a233", "#f27a2c", "#a9c43a", "#2f9a2f", "#3a9e3a"]}, "legend": null}
    }},
   {"transform": [{"filter": "datum.fraction === 'PF'"}],
    "mark": {"type": "rule", "color": "#000", "strokeWidth": 1},
    "encoding": {
     "x": {"field": "solution", "type": "nominal", "scale": {"type": "band", "paddingInner": 0, "paddingOuter": 0}, "axis": null},
     "xOffset": {"field": "cycle", "type": "nominal", "bandPosition": -0.125, "scale": {"type": "band", "paddingInner": 0.2, "paddingOuter": 0.1}},
     "y": {"datum": 0.5, "type": "quantitative", "scale": {"domain": [0, 0.5], "nice": false}, "axis": null},
     "y2": {"datum": 0.4914}
    }},
   {"transform": [{"filter": "datum.fraction === 'PF'"}],
    "mark": {"type": "rule", "color": "#000", "strokeWidth": 1},
    "encoding": {
     "x": {"field": "solution", "type": "nominal", "scale": {"type": "band", "paddingInner": 0, "paddingOuter": 0}, "axis": null},
     "xOffset": {"field": "cycle", "type": "nominal", "scale": {"type": "band", "paddingInner": 0.2, "paddingOuter": 0.1}},
     "y": {"datum": 0.5, "type": "quantitative", "scale": {"domain": [0, 0.5], "nice": false}, "axis": null},
     "y2": {"datum": 0.4957}
    }}
  ]
 },
 {
  "width": 1326, "height": 466,
  "data": {"name": "ni"},
  "resolve": {"axis": {"x": "independent", "y": "independent"}},
  "layer": [
   {"transform": [{"filter": "datum.fraction === 'PF'"}],
    "mark": {"type": "rule", "color": "#999", "strokeDash": [1, 3], "strokeWidth": 1},
    "encoding": {
     "x": {"field": "solution", "type": "nominal", "scale": {"type": "band", "paddingInner": 0, "paddingOuter": 0}, "axis": null},
     "xOffset": {"field": "cycle", "type": "nominal", "bandPosition": -0.125, "scale": {"type": "band", "paddingInner": 0.2, "paddingOuter": 0.1}},
     "y": {"datum": 0, "type": "quantitative", "scale": {"domain": [0, 0.9], "nice": false}, "axis": {"orient": "left", "values": [0.05,0.1,0.15,0.25,0.3,0.35,0.45,0.5,0.55,0.65,0.7,0.75,0.85], "labels": false, "tickSize": -4, "domain": false, "title": null, "zindex": 1}},
     "y2": {"datum": 0.9}
    }},
   {"transform": [{"filter": "datum.fraction === 'PF'"}],
    "mark": {"type": "bar", "strokeWidth": 0, "fill": {"gradient": "linear", "x1": 0, "y1": 0, "x2": 0.0673, "y2": 1.067, "stops": [
{"offset":0,"color":"#1a1a1a"},{"offset":0.003,"color":"#1a1a1a"},{"offset":0.003,"color":"#fff"},
{"offset":0.017,"color":"#fff"},{"offset":0.017,"color":"#1a1a1a"},{"offset":0.02,"color":"#1a1a1a"},{"offset":0.02,"color":"#fff"},
{"offset":0.034,"color":"#fff"},{"offset":0.034,"color":"#1a1a1a"},{"offset":0.037,"color":"#1a1a1a"},{"offset":0.037,"color":"#fff"},
{"offset":0.051,"color":"#fff"},{"offset":0.051,"color":"#1a1a1a"},{"offset":0.054,"color":"#1a1a1a"},{"offset":0.054,"color":"#fff"},
{"offset":0.068,"color":"#fff"},{"offset":0.068,"color":"#1a1a1a"},{"offset":0.071,"color":"#1a1a1a"},{"offset":0.071,"color":"#fff"},
{"offset":0.085,"color":"#fff"},{"offset":0.085,"color":"#1a1a1a"},{"offset":0.088,"color":"#1a1a1a"},{"offset":0.088,"color":"#fff"},
{"offset":0.102,"color":"#fff"},{"offset":0.102,"color":"#1a1a1a"},{"offset":0.105,"color":"#1a1a1a"},{"offset":0.105,"color":"#fff"},
{"offset":0.119,"color":"#fff"},{"offset":0.119,"color":"#1a1a1a"},{"offset":0.122,"color":"#1a1a1a"},{"offset":0.122,"color":"#fff"},
{"offset":0.136,"color":"#fff"},{"offset":0.136,"color":"#1a1a1a"},{"offset":0.139,"color":"#1a1a1a"},{"offset":0.139,"color":"#fff"},
{"offset":0.153,"color":"#fff"},{"offset":0.153,"color":"#1a1a1a"},{"offset":0.156,"color":"#1a1a1a"},{"offset":0.156,"color":"#fff"},
{"offset":0.17,"color":"#fff"},{"offset":0.17,"color":"#1a1a1a"},{"offset":0.173,"color":"#1a1a1a"},{"offset":0.173,"color":"#fff"},
{"offset":0.187,"color":"#fff"},{"offset":0.187,"color":"#1a1a1a"},{"offset":0.19,"color":"#1a1a1a"},{"offset":0.19,"color":"#fff"},
{"offset":0.204,"color":"#fff"},{"offset":0.204,"color":"#1a1a1a"},{"offset":0.207,"color":"#1a1a1a"},{"offset":0.207,"color":"#fff"},
{"offset":0.221,"color":"#fff"},{"offset":0.221,"color":"#1a1a1a"},{"offset":0.224,"color":"#1a1a1a"},{"offset":0.224,"color":"#fff"},
{"offset":0.238,"color":"#fff"},{"offset":0.238,"color":"#1a1a1a"},{"offset":0.241,"color":"#1a1a1a"},{"offset":0.241,"color":"#fff"},
{"offset":0.255,"color":"#fff"},{"offset":0.255,"color":"#1a1a1a"},{"offset":0.258,"color":"#1a1a1a"},{"offset":0.258,"color":"#fff"},
{"offset":0.272,"color":"#fff"},{"offset":0.272,"color":"#1a1a1a"},{"offset":0.275,"color":"#1a1a1a"},{"offset":0.275,"color":"#fff"},
{"offset":0.289,"color":"#fff"},{"offset":0.289,"color":"#1a1a1a"},{"offset":0.292,"color":"#1a1a1a"},{"offset":0.292,"color":"#fff"},
{"offset":0.306,"color":"#fff"},{"offset":0.306,"color":"#1a1a1a"},{"offset":0.309,"color":"#1a1a1a"},{"offset":0.309,"color":"#fff"},
{"offset":0.323,"color":"#fff"},{"offset":0.323,"color":"#1a1a1a"},{"offset":0.326,"color":"#1a1a1a"},{"offset":0.326,"color":"#fff"},
{"offset":0.34,"color":"#fff"},{"offset":0.34,"color":"#1a1a1a"},{"offset":0.343,"color":"#1a1a1a"},{"offset":0.343,"color":"#fff"},
{"offset":0.357,"color":"#fff"},{"offset":0.357,"color":"#1a1a1a"},{"offset":0.36,"color":"#1a1a1a"},{"offset":0.36,"color":"#fff"},
{"offset":0.374,"color":"#fff"},{"offset":0.374,"color":"#1a1a1a"},{"offset":0.377,"color":"#1a1a1a"},{"offset":0.377,"color":"#fff"},
{"offset":0.391,"color":"#fff"},{"offset":0.391,"color":"#1a1a1a"},{"offset":0.394,"color":"#1a1a1a"},{"offset":0.394,"color":"#fff"},
{"offset":0.408,"color":"#fff"},{"offset":0.408,"color":"#1a1a1a"},{"offset":0.411,"color":"#1a1a1a"},{"offset":0.411,"color":"#fff"},
{"offset":0.425,"color":"#fff"},{"offset":0.425,"color":"#1a1a1a"},{"offset":0.428,"color":"#1a1a1a"},{"offset":0.428,"color":"#fff"},
{"offset":0.442,"color":"#fff"},{"offset":0.442,"color":"#1a1a1a"},{"offset":0.445,"color":"#1a1a1a"},{"offset":0.445,"color":"#fff"},
{"offset":0.459,"color":"#fff"},{"offset":0.459,"color":"#1a1a1a"},{"offset":0.462,"color":"#1a1a1a"},{"offset":0.462,"color":"#fff"},
{"offset":0.476,"color":"#fff"},{"offset":0.476,"color":"#1a1a1a"},{"offset":0.479,"color":"#1a1a1a"},{"offset":0.479,"color":"#fff"},
{"offset":0.493,"color":"#fff"},{"offset":0.493,"color":"#1a1a1a"},{"offset":0.496,"color":"#1a1a1a"},{"offset":0.496,"color":"#fff"},
{"offset":0.51,"color":"#fff"},{"offset":0.51,"color":"#1a1a1a"},{"offset":0.513,"color":"#1a1a1a"},{"offset":0.513,"color":"#fff"},
{"offset":0.527,"color":"#fff"},{"offset":0.527,"color":"#1a1a1a"},{"offset":0.53,"color":"#1a1a1a"},{"offset":0.53,"color":"#fff"},
{"offset":0.544,"color":"#fff"},{"offset":0.544,"color":"#1a1a1a"},{"offset":0.547,"color":"#1a1a1a"},{"offset":0.547,"color":"#fff"},
{"offset":0.561,"color":"#fff"},{"offset":0.561,"color":"#1a1a1a"},{"offset":0.564,"color":"#1a1a1a"},{"offset":0.564,"color":"#fff"},
{"offset":0.578,"color":"#fff"},{"offset":0.578,"color":"#1a1a1a"},{"offset":0.581,"color":"#1a1a1a"},{"offset":0.581,"color":"#fff"},
{"offset":0.595,"color":"#fff"},{"offset":0.595,"color":"#1a1a1a"},{"offset":0.598,"color":"#1a1a1a"},{"offset":0.598,"color":"#fff"},
{"offset":0.612,"color":"#fff"},{"offset":0.612,"color":"#1a1a1a"},{"offset":0.615,"color":"#1a1a1a"},{"offset":0.615,"color":"#fff"},
{"offset":0.629,"color":"#fff"},{"offset":0.629,"color":"#1a1a1a"},{"offset":0.632,"color":"#1a1a1a"},{"offset":0.632,"color":"#fff"},
{"offset":0.646,"color":"#fff"},{"offset":0.646,"color":"#1a1a1a"},{"offset":0.649,"color":"#1a1a1a"},{"offset":0.649,"color":"#fff"},
{"offset":0.663,"color":"#fff"},{"offset":0.663,"color":"#1a1a1a"},{"offset":0.666,"color":"#1a1a1a"},{"offset":0.666,"color":"#fff"},
{"offset":0.68,"color":"#fff"},{"offset":0.68,"color":"#1a1a1a"},{"offset":0.683,"color":"#1a1a1a"},{"offset":0.683,"color":"#fff"},
{"offset":0.697,"color":"#fff"},{"offset":0.697,"color":"#1a1a1a"},{"offset":0.7,"color":"#1a1a1a"},{"offset":0.7,"color":"#fff"},
{"offset":0.714,"color":"#fff"},{"offset":0.714,"color":"#1a1a1a"},{"offset":0.717,"color":"#1a1a1a"},{"offset":0.717,"color":"#fff"},
{"offset":0.731,"color":"#fff"},{"offset":0.731,"color":"#1a1a1a"},{"offset":0.734,"color":"#1a1a1a"},{"offset":0.734,"color":"#fff"},
{"offset":0.748,"color":"#fff"},{"offset":0.748,"color":"#1a1a1a"},{"offset":0.751,"color":"#1a1a1a"},{"offset":0.751,"color":"#fff"},
{"offset":0.765,"color":"#fff"},{"offset":0.765,"color":"#1a1a1a"},{"offset":0.768,"color":"#1a1a1a"},{"offset":0.768,"color":"#fff"},
{"offset":0.782,"color":"#fff"},{"offset":0.782,"color":"#1a1a1a"},{"offset":0.785,"color":"#1a1a1a"},{"offset":0.785,"color":"#fff"},
{"offset":0.799,"color":"#fff"},{"offset":0.799,"color":"#1a1a1a"},{"offset":0.802,"color":"#1a1a1a"},{"offset":0.802,"color":"#fff"},
{"offset":0.816,"color":"#fff"},{"offset":0.816,"color":"#1a1a1a"},{"offset":0.819,"color":"#1a1a1a"},{"offset":0.819,"color":"#fff"},
{"offset":0.833,"color":"#fff"},{"offset":0.833,"color":"#1a1a1a"},{"offset":0.836,"color":"#1a1a1a"},{"offset":0.836,"color":"#fff"},
{"offset":0.85,"color":"#fff"},{"offset":0.85,"color":"#1a1a1a"},{"offset":0.853,"color":"#1a1a1a"},{"offset":0.853,"color":"#fff"},
{"offset":0.867,"color":"#fff"},{"offset":0.867,"color":"#1a1a1a"},{"offset":0.87,"color":"#1a1a1a"},{"offset":0.87,"color":"#fff"},
{"offset":0.884,"color":"#fff"},{"offset":0.884,"color":"#1a1a1a"},{"offset":0.887,"color":"#1a1a1a"},{"offset":0.887,"color":"#fff"},
{"offset":0.901,"color":"#fff"},{"offset":0.901,"color":"#1a1a1a"},{"offset":0.904,"color":"#1a1a1a"},{"offset":0.904,"color":"#fff"},
{"offset":0.918,"color":"#fff"},{"offset":0.918,"color":"#1a1a1a"},{"offset":0.921,"color":"#1a1a1a"},{"offset":0.921,"color":"#fff"},
{"offset":0.935,"color":"#fff"},{"offset":0.935,"color":"#1a1a1a"},{"offset":0.938,"color":"#1a1a1a"},{"offset":0.938,"color":"#fff"},
{"offset":0.952,"color":"#fff"},{"offset":0.952,"color":"#1a1a1a"},{"offset":0.955,"color":"#1a1a1a"},{"offset":0.955,"color":"#fff"},
{"offset":0.969,"color":"#fff"},{"offset":0.969,"color":"#1a1a1a"},{"offset":0.972,"color":"#1a1a1a"},{"offset":0.972,"color":"#fff"},
{"offset":0.986,"color":"#fff"},{"offset":0.986,"color":"#1a1a1a"},{"offset":0.989,"color":"#1a1a1a"},{"offset":0.989,"color":"#fff"},
{"offset":1,"color":"#fff"}]}},
    "encoding": {
     "x": {"field": "solution", "type": "nominal", "scale": {"type": "band", "paddingInner": 0, "paddingOuter": 0}, "axis": {"orient": "bottom", "title": "weathering solutions and cycles", "titleFontWeight": "normal", "titleFontSize": 16, "titlePadding": 24, "titleX": 681, "labelAngle": 0, "labelPadding": 47, "labelFontSize": 17, "ticks": false, "tickSize": 0, "domain": true, "zindex": 1}},
     "xOffset": {"field": "cycle", "type": "nominal", "scale": {"type": "band", "paddingInner": 0.2, "paddingOuter": 0.1}},
     "y": {"datum": 0, "type": "quantitative", "scale": {"domain": [0, 0.9], "nice": false}, "axis": {"orient": "left", "values": [0, 0.2, 0.4, 0.6, 0.8], "format": ".2f", "ticks": false, "tickSize": 0, "labelPadding": 35, "labelOffset": 3, "labelFontSize": 17, "title": "Ni (µg cm⁻²)", "titleFontSize": 16, "titleFontWeight": "bold", "titlePadding": 4, "titleY": 227, "domain": true, "zindex": 1}},
     "y2": {"datum": 0.9}
    }},
   {"transform": [{"filter": "datum.fraction === 'PF'"}],
    "mark": {"type": "bar", "fill": "#fff", "strokeWidth": 0},
    "encoding": {
     "x": {"field": "solution", "type": "nominal", "scale": {"type": "band", "paddingInner": 0, "paddingOuter": 0}, "axis": {"orient": "top", "labels": false, "ticks": false, "domain": true, "title": null, "zindex": 1}},
     "xOffset": {"field": "cycle", "type": "nominal", "scale": {"type": "band", "paddingInner": 0.2, "paddingOuter": 0.1}},
     "y": {"field": "value", "type": "quantitative", "scale": {"domain": [0, 0.9], "nice": false}, "axis": {"orient": "left", "values": [0, 0.2, 0.4, 0.6, 0.8], "labels": false, "tickSize": -8, "domain": false, "title": null, "zindex": 1}},
     "y2": {"datum": 0.9}
    }},
   {"mark": {"type": "rule", "color": "#999", "strokeDash": [1, 3]}, "encoding": {"y": {"datum": 0.2, "type": "quantitative", "scale": {"domain": [0, 0.9], "nice": false}, "axis": null}}},
   {"mark": {"type": "rule", "color": "#999", "strokeDash": [1, 3]}, "encoding": {"y": {"datum": 0.4, "type": "quantitative", "scale": {"domain": [0, 0.9], "nice": false}, "axis": null}}},
   {"mark": {"type": "rule", "color": "#999", "strokeDash": [1, 3]}, "encoding": {"y": {"datum": 0.6, "type": "quantitative", "scale": {"domain": [0, 0.9], "nice": false}, "axis": null}}},
   {"mark": {"type": "rule", "color": "#999", "strokeDash": [1, 3]}, "encoding": {"y": {"datum": 0.8, "type": "quantitative", "scale": {"domain": [0, 0.9], "nice": false}, "axis": null}}},
   {"mark": {"type": "bar", "stroke": "#000", "strokeWidth": 1},
    "encoding": {
     "x": {"field": "solution", "type": "nominal", "scale": {"type": "band", "paddingInner": 0, "paddingOuter": 0}, "axis": null},
     "xOffset": {"field": "cycle", "type": "nominal", "scale": {"type": "band", "paddingInner": 0.2, "paddingOuter": 0.1}},
     "y": {"field": "value", "type": "quantitative", "stack": "zero", "scale": {"domain": [0, 0.9], "nice": false}, "axis": {"orient": "right", "values": [0, 0.2, 0.4, 0.6, 0.8], "labels": false, "tickSize": -8, "domain": true, "title": null, "zindex": 1}},
     "fill": {"field": "fraction", "type": "nominal", "scale": {"domain": ["DF", "PF"], "range": ["#000000", "transparent"]},
      "legend": {"title": null, "orient": "none", "legendX": 1242, "legendY": 50, "padding": 0, "symbolType": "square", "symbolSize": 216, "symbolStrokeColor": "#000", "symbolStrokeWidth": 1.2, "labelFontSize": 17, "labelOffset": 22, "rowPadding": 13,
       "encode": {"symbols": {"update": {"shape": [{"test": "datum.value === 'PF'", "value": "M-1,-1H1V1H-1ZM-1,1L1,-1"}, {"value": "square"}]}}}}},
     "order": {"field": "fraction", "sort": "descending"}
    }},
   {"transform": [{"filter": "datum.fraction === 'PF'"}],
    "mark": {"type": "text", "dy": 24, "fontSize": 17, "baseline": "middle", "align": "center"},
    "encoding": {
     "x": {"field": "solution", "type": "nominal", "scale": {"type": "band", "paddingInner": 0, "paddingOuter": 0}, "axis": null},
     "xOffset": {"field": "cycle", "type": "nominal", "scale": {"type": "band", "paddingInner": 0.2, "paddingOuter": 0.1}},
     "y": {"datum": 0, "type": "quantitative", "scale": {"domain": [0, 0.9], "nice": false}, "axis": {"orient": "right", "values": [0.05,0.1,0.15,0.25,0.3,0.35,0.45,0.5,0.55,0.65,0.7,0.75,0.85], "labels": false, "tickSize": -4, "domain": false, "title": null, "zindex": 1}},
     "text": {"field": "cycle", "type": "nominal"}
    }},
   {"transform": [{"filter": "datum.fraction === 'PF'"}, {"aggregate": [{"op": "count", "as": "n"}], "groupby": ["solution"]}],
    "mark": {"type": "rect", "filled": false, "strokeWidth": 1.5},
    "encoding": {
     "x": {"field": "solution", "type": "nominal", "scale": {"type": "band", "paddingInner": 0, "paddingOuter": 0}, "axis": null},
     "y": {"datum": -0.144, "type": "quantitative", "scale": {"domain": [0, 0.9], "nice": false}, "axis": null},
     "y2": {"datum": 0.836},
     "stroke": {"field": "solution", "type": "nominal", "scale": {"range": ["#1ec0f5", "#1aa3ec", "#2e7ff0", "#f2d44a", "#f8a233", "#f27a2c", "#a9c43a", "#2f9a2f", "#3a9e3a"]}, "legend": null}
    }},
   {"transform": [{"filter": "datum.fraction === 'PF'"}],
    "mark": {"type": "rule", "color": "#000", "strokeWidth": 1},
    "encoding": {
     "x": {"field": "solution", "type": "nominal", "scale": {"type": "band", "paddingInner": 0, "paddingOuter": 0}, "axis": null},
     "xOffset": {"field": "cycle", "type": "nominal", "bandPosition": -0.125, "scale": {"type": "band", "paddingInner": 0.2, "paddingOuter": 0.1}},
     "y": {"datum": 0.9, "type": "quantitative", "scale": {"domain": [0, 0.9], "nice": false}, "axis": null},
     "y2": {"datum": 0.8846}
    }},
   {"transform": [{"filter": "datum.fraction === 'PF'"}],
    "mark": {"type": "rule", "color": "#000", "strokeWidth": 1},
    "encoding": {
     "x": {"field": "solution", "type": "nominal", "scale": {"type": "band", "paddingInner": 0, "paddingOuter": 0}, "axis": null},
     "xOffset": {"field": "cycle", "type": "nominal", "scale": {"type": "band", "paddingInner": 0.2, "paddingOuter": 0.1}},
     "y": {"datum": 0.9, "type": "quantitative", "scale": {"domain": [0, 0.9], "nice": false}, "axis": null},
     "y2": {"datum": 0.8923}
    }}
  ]
 }
]
}
